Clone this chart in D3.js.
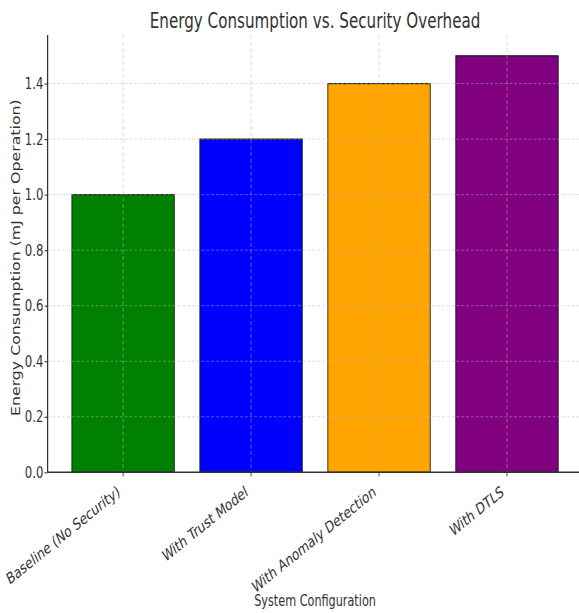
<!DOCTYPE html>
<html>
<head>
<meta charset="utf-8">
<script src="https://cdn.jsdelivr.net/npm/d3@7"></script>
<style>
  html, body { margin: 0; padding: 0; background: #fff; }
  svg { display: block; }
  text { font-family: "DejaVu Sans", sans-serif; fill: #333; }
</style>
</head>
<body>
<svg id="chart" width="579" height="613"></svg>
<script>
// Data
const categories = ["Baseline (No Security)", "With Trust Model", "With Anomaly Detection", "With DTLS"];
const energyValues = [1.0, 1.2, 1.4, 1.5];
const barColors = ["#008000", "#0000ff", "#ffa500", "#800080"];
const yTicks = [0.0, 0.2, 0.4, 0.6, 0.8, 1.0, 1.2, 1.4];
const titleText = "Energy Consumption vs. Security Overhead";
const xLabelText = "System Configuration";
const yLabelText = "Energy Consumption (mJ per Operation)";

// The drawing is laid out in a horizontally stretched space and squeezed back by SX
const SX = 0.74;
const W = 579, H = 613;
const plot = { left: 47.6, right: 582.5, top: 35, bottom: 472.3 }; // page pixels
const v = px => px / SX; // page x -> inner x

const svg = d3.select("#chart");
const g = svg.append("g").attr("transform", `scale(${SX},1)`);

const x = d3.scaleBand()
  .domain(categories)
  .range([v(plot.left), v(plot.right)])
  .paddingInner(0.2)
  .paddingOuter(0.19);

const y = d3.scaleLinear()
  .domain([0, 1.575])
  .range([plot.bottom, plot.top]);

// Bars
g.append("g").selectAll("rect")
  .data(categories)
  .join("rect")
  .attr("x", d => x(d))
  .attr("y", (d, i) => y(energyValues[i]))
  .attr("width", x.bandwidth())
  .attr("height", (d, i) => y(0) - y(energyValues[i]))
  .attr("fill", (d, i) => barColors[i])
  .attr("stroke", "#1a1a1a")
  .attr("stroke-width", 1.2);

// Grid (drawn over the bars)
const grid = g.append("g")
  .attr("stroke", "#b8b8b8")
  .attr("stroke-opacity", 0.6)
  .attr("stroke-dasharray", "4,2.5")
  .attr("fill", "none");
grid.selectAll("line.h")
  .data(yTicks.filter(t => t > 0))
  .join("line")
  .attr("class", "h")
  .attr("x1", v(plot.left)).attr("x2", v(plot.right))
  .attr("y1", d => y(d)).attr("y2", d => y(d))
  .attr("stroke-width", 0.9);
grid.selectAll("line.v")
  .data(categories)
  .join("line")
  .attr("class", "v")
  .attr("x1", d => x(d) + x.bandwidth() / 2)
  .attr("x2", d => x(d) + x.bandwidth() / 2)
  .attr("y1", plot.top).attr("y2", plot.bottom)
  .attr("stroke-width", 1.1);

// Y axis
const yAxis = d3.axisLeft(y)
  .tickValues(yTicks)
  .tickFormat(d3.format(".1f"))
  .tickSize(v(3))
  .tickPadding(v(1.2));
const yAxisG = g.append("g")
  .attr("transform", `translate(${v(plot.left)},0)`)
  .call(yAxis);
yAxisG.select(".domain").remove();
yAxisG.selectAll(".tick line").attr("stroke", "#444").attr("stroke-width", 1.2);
yAxisG.selectAll(".tick text")
  .attr("fill", "#3a3a3a")
  .style("font-family", "DejaVu Sans, sans-serif")
  .style("font-size", "15.8px");

// X axis ticks
const xAxis = d3.axisBottom(x).tickSize(4).tickFormat("");
const xAxisG = g.append("g")
  .attr("transform", `translate(0,${plot.bottom})`)
  .call(xAxis);
xAxisG.select(".domain").remove();
xAxisG.selectAll(".tick line").attr("stroke", "#444").attr("stroke-width", 1.3);

// Spines (left and bottom)
g.append("line")
  .attr("x1", v(plot.left)).attr("x2", v(plot.left))
  .attr("y1", plot.top).attr("y2", plot.bottom)
  .attr("stroke", "#333").attr("stroke-width", 1.7);
g.append("line")
  .attr("x1", v(plot.left)).attr("x2", v(plot.right))
  .attr("y1", plot.bottom).attr("y2", plot.bottom)
  .attr("stroke", "#333").attr("stroke-width", 1.4);

// Rotated category labels, right/top aligned under each tick
const labelG = g.append("g");
labelG.selectAll("text")
  .data(categories)
  .join("text")
  .attr("text-anchor", "end")
  .attr("fill", "#3a3a3a")
  .style("font-size", "15.8px")
  .text(d => d)
  .each(function (d) {
    const cx = x(d) + x.bandwidth() / 2;
    const el = d3.select(this);
    el.attr("transform", `translate(${cx},${plot.bottom + 12}) rotate(-31)`);
    const r = this.getBoundingClientRect();
    const wantRight = (cx * SX) - 1;
    const wantTop = 482;
    const dx = (wantRight - r.right) / SX;
    const dy = wantTop - r.top;
    el.attr("transform", `translate(${cx + dx},${plot.bottom + 12 + dy}) rotate(-31)`);
  });

// Title
g.append("text")
  .attr("x", v((plot.left + plot.right) / 2))
  .attr("y", 28.3)
  .attr("text-anchor", "middle")
  .attr("fill", "#3a3a3a")
  .style("font-size", "20.5px")
  .text(titleText);

// X axis label
g.append("text")
  .attr("x", v((plot.left + plot.right) / 2))
  .attr("y", 606)
  .attr("text-anchor", "middle")
  .attr("fill", "#3a3a3a")
  .style("font-size", "15.2px")
  .text(xLabelText);

// Y axis label
g.append("text")
  .attr("transform", `translate(${v(19.5)},${(plot.top + plot.bottom) / 2 + 4}) rotate(-90)`)
  .attr("text-anchor", "middle")
  .attr("fill", "#3a3a3a")
  .style("font-size", "15.8px")
  .text(yLabelText);
</script>
</body>
</html>
